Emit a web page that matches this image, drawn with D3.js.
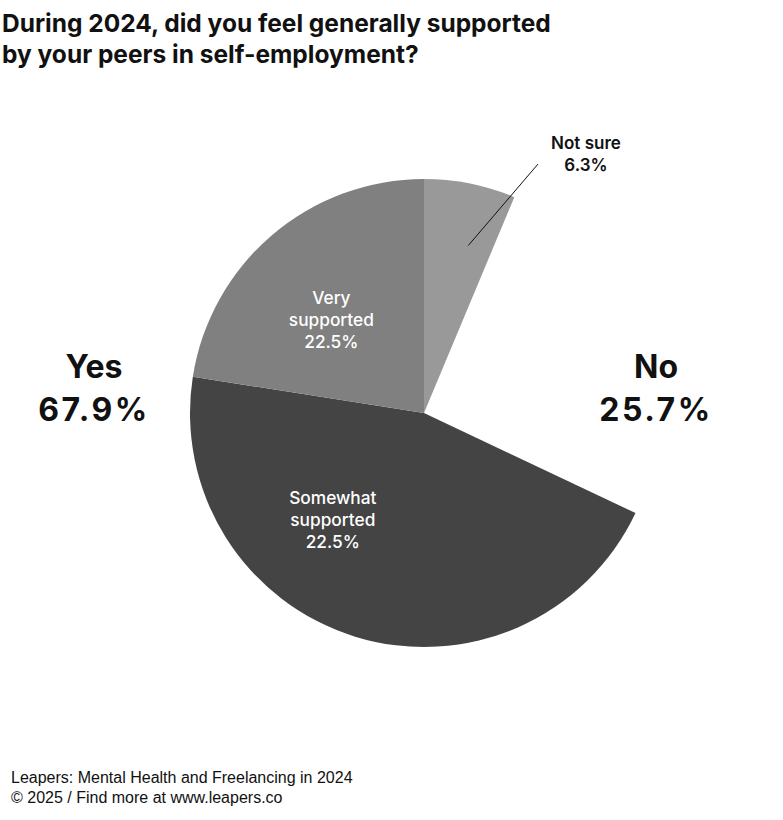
<!DOCTYPE html>
<html><head><meta charset="utf-8">
<script src="https://cdn.jsdelivr.net/npm/d3@7"></script>
<style>body{margin:0;background:#fff}svg{display:block}</style>
</head><body>
<script>
const categories = ["Not sure", "No", "Somewhat supported", "Very supported"];
const values = [6.3, 25.7, 45.4, 22.5];
const sliceLabels = ["Not sure\n6.3%", "", "Somewhat\nsupported\n22.5%", "Very\nsupported\n22.5%"];
const groupLabels = [["Yes", "67.9%"], ["No", "25.7%"]];
const titleLines = ["During 2024, did you feel generally supported", "by your peers in self-employment?"];
const footerLines = ["Leapers: Mental Health and Freelancing in 2024", "© 2025 / Find more at www.leapers.co"];

const W = 783, H = 820;
const cx = 424, cy = 413, R = 234;
const colors = d3.scaleOrdinal().domain(categories).range(["#999999", "none", "#444444", "#808080"]);
const headFont = "Inter, 'Noto Sans', sans-serif";
const deg = Math.PI / 180;

const svg = d3.select("body").append("svg").attr("width", W).attr("height", H);

svg.selectAll("text.title").data(titleLines).join("text")
  .attr("class", "title")
  .attr("x", 2).attr("y", (d, i) => 32 + i * 31)
  .attr("font-family", headFont).attr("font-weight", 700).attr("font-size", 24.5)
  .attr("fill", "#111")
  .text(d => d);

const pie = d3.pie().sort(null).value(d => d.v);
const arcs = pie(categories.map((c, i) => ({c, v: values[i], label: sliceLabels[i]})));
const arc = d3.arc().innerRadius(0).outerRadius(R);

const g = svg.append("g").attr("transform", `translate(${cx},${cy})`);
g.selectAll("path").data(arcs).join("path")
  .attr("d", arc)
  .attr("fill", d => colors(d.data.c));

// inner labels (polar placement: angle in degrees, radius as fraction of R)
const innerPlace = {"Very supported": [315, 0.56], "Somewhat supported": [220.5, 0.60]};
arcs.filter(d => innerPlace[d.data.c]).forEach(d => {
  const [a, f] = innerPlace[d.data.c];
  const [x, y] = d3.pointRadial(a * deg, R * f);
  const lines = d.data.label.split("\n");
  const t = g.append("text").attr("text-anchor", "middle")
    .attr("font-family", headFont).attr("font-weight", 500).attr("font-size", 17.3)
    .attr("fill", "#fff");
  lines.forEach((l, i) => t.append("tspan").attr("x", 0).attr("y", (i - (lines.length - 1) / 2) * 22 + 6).text(l));
  t.attr("transform", `translate(${x},${y})`);
});

// Not sure: leader line
const ns = arcs[0];
const p1 = d3.pointRadial(14.8 * deg, R * 0.74);
const p2 = d3.pointRadial(24.6 * deg, R * 1.17);
g.append("line").attr("x1", p1[0]).attr("y1", p1[1]).attr("x2", p2[0]).attr("y2", p2[1])
  .attr("stroke", "#111").attr("stroke-width", 1);
const nsLines = ns.data.label.split("\n");
const nt = g.append("text").attr("text-anchor", "middle")
  .attr("font-family", headFont).attr("font-weight", 600).attr("font-size", 17)
  .attr("fill", "#111");
nsLines.forEach((l, i) => nt.append("tspan").attr("x", p2[0] + 48).attr("y", p2[1] - 15 + i * 22).text(l));

// group labels
[[94, 0], [656, 1]].forEach(([x, k]) => {
  const t = svg.append("text").attr("text-anchor", "middle")
    .attr("font-family", headFont).attr("font-weight", 700).attr("font-size", 32)
    .attr("fill", "#111");
  groupLabels[k].forEach((l, i) => t.append("tspan").attr("x", x).attr("y", 378 + i * 43)
    .attr("letter-spacing", i ? 2.5 : 0).text(l));
});

svg.selectAll("text.footer").data(footerLines).join("text")
  .attr("class", "footer")
  .attr("x", 11).attr("y", (d, i) => 783 + i * 20)
  .attr("font-family", "'Liberation Sans', Arial, sans-serif").attr("font-size", 16)
  .attr("fill", "#111").text(d => d);
</script>
</body></html>
